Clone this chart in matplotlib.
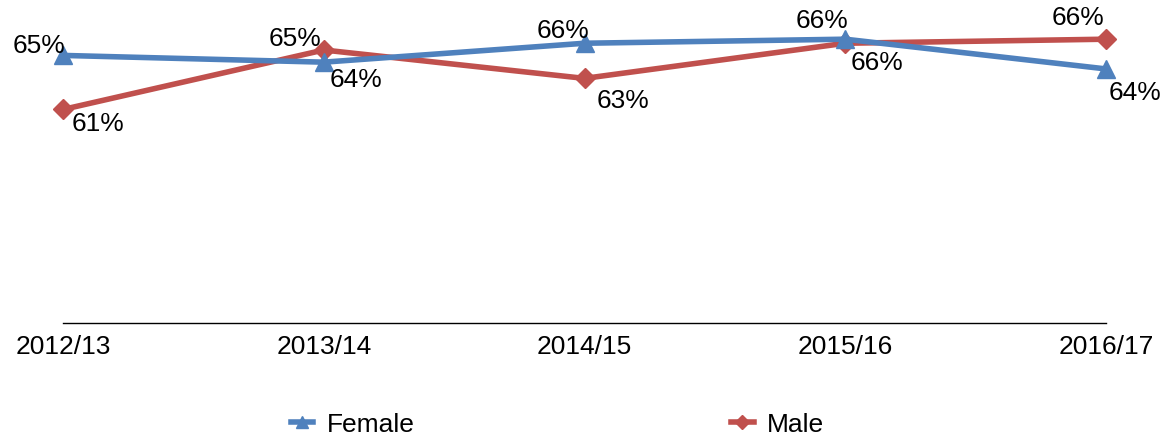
import matplotlib.pyplot as plt

plt.rcParams['font.family'] = ['Liberation Sans', 'DejaVu Sans']

# data
years = ['2012/13', '2013/14', '2014/15', '2015/16', '2016/17']
female = [0.648, 0.643, 0.657, 0.660, 0.638]
male = [0.608, 0.652, 0.631, 0.657, 0.660]
female_labels = ['65%', '64%', '66%', '66%', '64%']
male_labels = ['61%', '65%', '63%', '66%', '66%']

# label offsets in pixels (dx, dy, ha)
female_off = [(2, 9, 'right'), (6, -18, 'left'), (5, 12, 'right'), (3, 18, 'right'), (3, -24, 'left')]
male_off = [(9, -15, 'left'), (-2, 11, 'right'), (12, -23, 'left'), (5, -20, 'left'), (-2, 21, 'right')]

blue = '#4F81BD'
red = '#C0504D'
fs = 19

fig = plt.figure(figsize=(11.71, 4.41), dpi=100)
ax = fig.add_axes([63 / 1171, 118 / 441, (1106 - 63) / 1171, 323 / 441])

x = list(range(len(years)))
ax.plot(x, female, color=blue, lw=4, marker='^', ms=13, label='Female',
        clip_on=False, zorder=3)
ax.plot(x, male, color=red, lw=4, marker='D', ms=10.5, label='Male',
        clip_on=False, zorder=2)

for xi, v, lab, (dx, dy, ha) in zip(x, female, female_labels, female_off):
    ax.annotate(lab, (xi, v), xytext=(dx, dy), textcoords='offset pixels',
                ha=ha, va='center', fontsize=fs, zorder=5)
for xi, v, lab, (dx, dy, ha) in zip(x, male, male_labels, male_off):
    ax.annotate(lab, (xi, v), xytext=(dx, dy), textcoords='offset pixels',
                ha=ha, va='center', fontsize=fs, zorder=5)

ax.set_xlim(0, len(years) - 1)
ax.set_ylim(0.45, 0.689)
ax.set_xticks(x)
ax.set_xticklabels(years, fontsize=fs)
ax.tick_params(axis='x', length=0, pad=9)
ax.set_yticks([])
for s in ['top', 'right', 'left']:
    ax.spines[s].set_visible(False)
ax.spines['bottom'].set_linewidth(1.0)

fig.legend(loc='center', bbox_to_anchor=(0.476, 0.037), ncol=2, frameon=False,
           fontsize=fs, handlelength=0.85, handletextpad=0.5, columnspacing=12,
           markerscale=0.7)

fig.savefig('out.png', dpi=100)
